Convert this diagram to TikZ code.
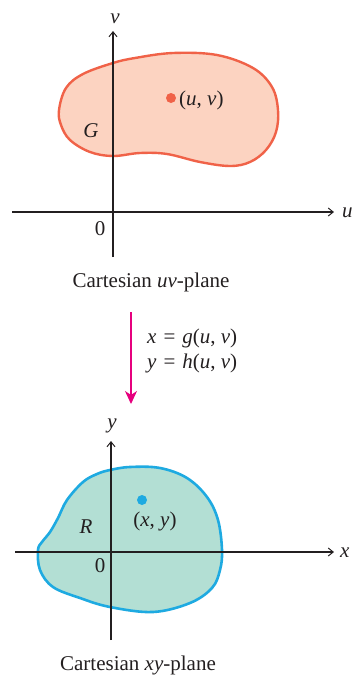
\documentclass[tikz,border=0pt]{standalone}
\usepackage{fontspec}
\setmainfont{Liberation Serif}
\usetikzlibrary{arrows.meta}
\definecolor{gfill}{HTML}{FCD3C1}
\definecolor{gline}{HTML}{F06248}
\definecolor{rfill}{HTML}{B3DFD4}
\definecolor{rline}{HTML}{1EAAE1}
\definecolor{mag}{HTML}{E6007E}
\definecolor{axc}{HTML}{231F20}
\tikzset{
  axis/.style={draw=axc, line width=1.1pt, -{Straight Barb[length=5pt,width=8pt,line width=1pt]}},
  lbl/.style={font=\fontsize{21}{24}\selectfont, text=axc, inner sep=0pt},
  blobG/.style={draw=gline, fill=gfill, line width=2.4pt},
  blobR/.style={draw=rline, fill=rfill, line width=2.6pt},
}
\begin{document}
\begin{tikzpicture}[x=1pt,y=-1pt]
\useasboundingbox (0,0) rectangle (354,675);
% ---------- uv-plane ----------
\path[blobG] plot[smooth cycle, tension=0.6] coordinates {
 (59,110) (66,88) (83,74) (113,63) (135,58) (173,53) (217,55) (253,68) (272,87)
 (278,110) (276,132) (266,150) (250,162) (230,166) (200,162) (167,154) (140,153) (113,156)
 (90,152) (70,140) (61,125)};
\coordinate (vS) at (113,257);
\coordinate (vE) at (113,31);
\coordinate (uS) at (12,212);
\coordinate (uE) at (334,212);
\draw[axis] (vS) -- (vE);
\draw[axis] (uS) -- (uE);
\fill[gline] (171,98) circle (5pt);
\node[lbl, anchor=base west] (uvp) at (179,105) {(\textit{u}, \textit{v})};
\node[lbl, anchor=base] (G) at (91,137) {\textit{G}};
\node[lbl, anchor=base] (zero1) at (100,235) {0};
\node[lbl, anchor=base] (vl) at (115,23) {\textit{v}};
\node[lbl, anchor=base west] (ul) at (342,217) {\textit{u}};
\node[lbl, anchor=base] (cap1) at (151,287) {Cartesian \textit{uv}-plane};
% ---------- mapping ----------
\coordinate (mS) at (131,312);
\coordinate (mE) at (131,404);
\draw[mag, line width=1.1pt, -{Stealth[length=13pt,width=12pt,inset=4pt]}] (mS) -- (mE);
\node[lbl, anchor=base west] (eq1) at (147,343) {\textit{x}\,\,=\,\,\textit{g}(\textit{u}, \textit{v})};
\node[lbl, anchor=base west] (eq2) at (147,368) {\textit{y}\,\,=\,\,\textit{h}(\textit{u}, \textit{v})};
% ---------- xy-plane ----------
\path[blobR] plot[smooth cycle, tension=0.6] coordinates {
 (110,470) (130,467) (160,468) (187,478) (207,497) (218,520) (222,550) (220,570)
 (212,588) (190,603) (153,612) (110,607) (80,598) (53,587) (40,570) (38,550)
 (42,542) (50,532) (58,518) (67,500) (83,482) (97,474)};
\coordinate (yS) at (111,640);
\coordinate (yE) at (111,441);
\coordinate (xS) at (15,552);
\coordinate (xE) at (334,552);
\draw[axis] (yS) -- (yE);
\draw[axis] (xS) -- (xE);
\fill[rline] (142,500) circle (5pt);
\node[lbl, anchor=base] (xyp) at (155,526) {(\textit{x}, \textit{y})};
\node[lbl, anchor=base] (R) at (86,533) {\textit{R}};
\node[lbl, anchor=base] (zero2) at (100,572) {0};
\node[lbl, anchor=base] (yl) at (112,428) {\textit{y}};
\node[lbl, anchor=base west] (xl) at (340,557) {\textit{x}};
\node[lbl, anchor=base] (cap2) at (138,670) {Cartesian \textit{xy}-plane};
\end{tikzpicture}
\end{document}
